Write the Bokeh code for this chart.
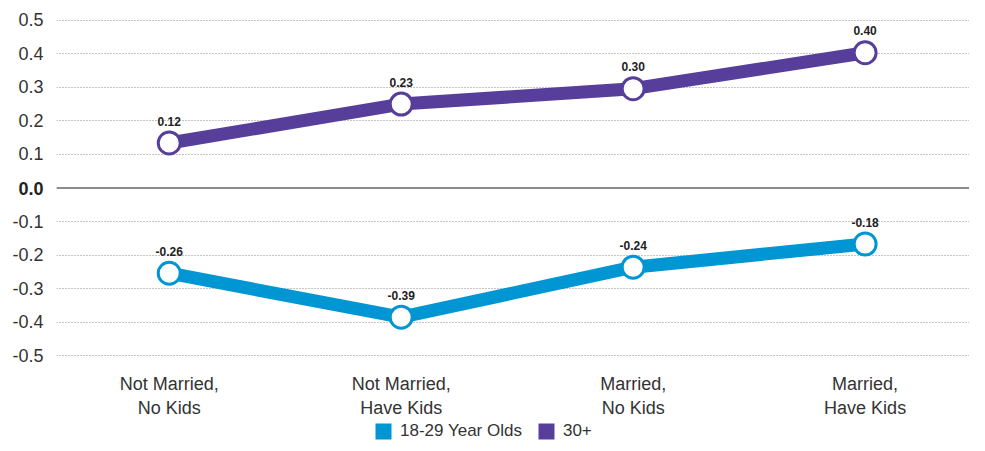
from bokeh.plotting import figure
from bokeh.layouts import column
from bokeh.models import (ColumnDataSource, LabelSet, Span, Legend, LegendItem,
                          FixedTicker, NumeralTickFormatter, LinearAxis)
from bokeh.core.properties import value
from bokeh.embed import file_html
from bokeh.resources import INLINE

categories = ["Not Married,\nNo Kids", "Not Married,\nHave Kids",
              "Married,\nNo Kids", "Married,\nHave Kids"]
young = [-0.254, -0.385, -0.236, -0.167]
older = [0.134, 0.250, 0.296, 0.403]
young_labels = ["-0.26", "-0.39", "-0.24", "-0.18"]
older_labels = ["0.12", "0.23", "0.30", "0.40"]
y_ticks = [-0.5, -0.4, -0.3, -0.2, -0.1, 0.0, 0.1, 0.2, 0.3, 0.4, 0.5]
zero_tick = [0.0]
series_names = ["18-29 Year Olds", "30+"]

BLUE = "#0095d3"
PURPLE = "#573e9b"
FONT = "Liberation Sans"
xs = list(range(len(categories)))

p = figure(width=969, height=420, output_backend="svg", toolbar_location=None,
           x_range=(-0.486, 3.45), y_range=(-0.52, 0.52),
           min_border_left=56, min_border_right=0, min_border_top=13,
           min_border_bottom=58,
           background_fill_color="white", border_fill_color="white")
p.outline_line_color = None

# main y axis (all ticks, zero label left blank)
p.yaxis.ticker = FixedTicker(ticks=y_ticks)
p.yaxis.formatter = NumeralTickFormatter(format="0.0")
p.yaxis.major_label_overrides = {0.0: " "}
p.yaxis.axis_line_color = None
p.yaxis.major_tick_line_color = None
p.yaxis.minor_tick_line_color = None
p.yaxis.major_tick_out = 0
p.yaxis.major_tick_in = 0
p.yaxis.major_label_text_font = FONT
p.yaxis.major_label_text_font_size = "18px"
p.yaxis.major_label_text_color = "#333333"
p.yaxis.major_label_standoff = 13

# second axis carrying only the bold zero label, pulled back over the first
zaxis = LinearAxis(ticker=FixedTicker(ticks=zero_tick),
                   formatter=NumeralTickFormatter(format="0.0"),
                   axis_line_color=None, major_tick_line_color=None,
                   minor_tick_line_color=None, major_tick_out=0, major_tick_in=0,
                   major_label_text_font=FONT, major_label_text_font_size="18px",
                   major_label_text_font_style="bold",
                   major_label_text_color="#222222",
                   major_label_standoff=-34)
p.add_layout(zaxis, "left")

p.xaxis.ticker = FixedTicker(ticks=xs)
p.xaxis.major_label_overrides = {i: c for i, c in zip(xs, categories)}
p.xaxis.axis_line_color = None
p.xaxis.major_tick_line_color = None
p.xaxis.minor_tick_line_color = None
p.xaxis.major_tick_out = 0
p.xaxis.major_tick_in = 0
p.xaxis.major_label_text_font = FONT
p.xaxis.major_label_text_font_size = "18px"
p.xaxis.major_label_text_color = "#333333"
p.xaxis.major_label_standoff = 11

p.xgrid.grid_line_color = None
p.ygrid.grid_line_color = "#8a8a8a"
p.ygrid.grid_line_width = 1
p.ygrid.grid_line_dash = "1 2"

zero = Span(location=0, dimension="width", line_color="#8c8c8c", line_width=2)
p.add_layout(zero)

for vals, labels, col in [(young, young_labels, BLUE), (older, older_labels, PURPLE)]:
    src = ColumnDataSource(dict(x=xs, y=vals, t=labels))
    p.line("x", "y", source=src, line_width=13, line_color=col)
    p.scatter("x", "y", source=src, size=22, fill_color="white",
              line_color=col, line_width=3)
    p.add_layout(LabelSet(x="x", y="y", text="t", source=src, y_offset=22,
                          text_align="center", text_baseline="middle",
                          text_font=value(FONT), text_font_size=value("12px"),
                          text_font_style=value("bold"), text_color="#222222"))

# legend strip
L = figure(width=969, height=23, output_backend="svg", toolbar_location=None,
           x_range=(0, 1), y_range=(0, 1), x_axis_location=None,
           y_axis_location=None, min_border=0,
           background_fill_color="white", border_fill_color="white")
L.outline_line_color = None
L.grid.visible = False
swatches = []
for col in [BLUE, PURPLE]:
    swatches.append(L.rect(x=[0.5], y=[0.5], width=0, height=0,
                           fill_color=col, line_color=None))
legend = Legend(items=[LegendItem(label=n, renderers=[r])
                       for n, r in zip(series_names, swatches)],
                orientation="horizontal", location=(317, 2),
                border_line_color=None, background_fill_alpha=0,
                label_text_font=FONT, label_text_font_size="17px",
                label_text_color="#333333", label_height=20,
                glyph_width=20, glyph_height=20, spacing=14, label_standoff=7,
                padding=0, margin=0)
L.add_layout(legend, "center")

open("out.html", "w").write(file_html(column(p, L), INLINE))
